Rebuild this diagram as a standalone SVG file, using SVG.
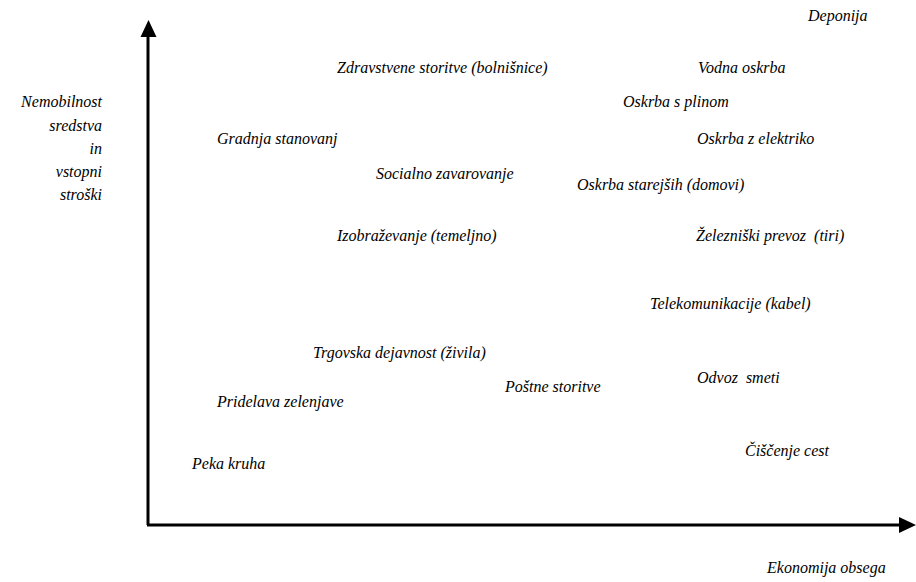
<svg xmlns="http://www.w3.org/2000/svg" width="916" height="582" viewBox="0 0 916 582">
<rect width="916" height="582" fill="#fff"/>
<g id="connectors">
<line stroke="#000" stroke-width="3" x1="148" y1="525" x2="148" y2="36"/>
<path d="M140.5,37 L148.5,20 L156.5,37 z" fill="#000"/>
<line stroke="#000" stroke-width="3" x1="147" y1="525" x2="900" y2="525"/>
<path d="M899,517 L916,525 L899,533 z" fill="#000"/>
</g>
<g id="y-label"><text font-family="serif" font-style="italic" font-size="16" text-anchor="end" x="102" y="107">Nemobilnost</text><text font-family="serif" font-style="italic" font-size="16" text-anchor="end" x="102" y="131">sredstva</text><text font-family="serif" font-style="italic" font-size="16" text-anchor="end" x="102" y="154">in</text><text font-family="serif" font-style="italic" font-size="16" text-anchor="end" x="102" y="177">vstopni</text><text font-family="serif" font-style="italic" font-size="16" text-anchor="end" x="102" y="200">stroški</text></g>
<g id="x-label"><text font-family="serif" font-style="italic" font-size="16" x="767" y="573">Ekonomija obsega</text></g>
<g id="deponija"><text font-family="serif" font-style="italic" font-size="16" x="808" y="21">Deponija</text></g>
<g id="zdravstvene"><text font-family="serif" font-style="italic" font-size="16" x="337" y="73">Zdravstvene storitve (bolnišnice)</text></g>
<g id="vodna"><text font-family="serif" font-style="italic" font-size="16" x="698" y="73">Vodna oskrba</text></g>
<g id="plin"><text font-family="serif" font-style="italic" font-size="16" x="623" y="107">Oskrba s plinom</text></g>
<g id="gradnja"><text font-family="serif" font-style="italic" font-size="16" x="217" y="144">Gradnja stanovanj</text></g>
<g id="elektrika"><text font-family="serif" font-style="italic" font-size="16" x="697" y="144">Oskrba z elektriko</text></g>
<g id="socialno"><text font-family="serif" font-style="italic" font-size="16" x="376" y="179">Socialno zavarovanje</text></g>
<g id="starejsi"><text font-family="serif" font-style="italic" font-size="16" x="577" y="190">Oskrba starejših (domovi)</text></g>
<g id="izobrazevanje"><text font-family="serif" font-style="italic" font-size="16" x="337" y="241">Izobraževanje (temeljno)</text></g>
<g id="zeleznica"><text font-family="serif" font-style="italic" font-size="16" x="696" y="241">Železniški prevoz&#160; (tiri)</text></g>
<g id="telekom"><text font-family="serif" font-style="italic" font-size="16" x="650" y="309">Telekomunikacije (kabel)</text></g>
<g id="trgovska"><text font-family="serif" font-style="italic" font-size="16" x="313" y="358">Trgovska dejavnost (živila)</text></g>
<g id="odvoz"><text font-family="serif" font-style="italic" font-size="16" x="697" y="383">Odvoz&#160; smeti</text></g>
<g id="postne"><text font-family="serif" font-style="italic" font-size="16" x="505" y="392">Poštne storitve</text></g>
<g id="pridelava"><text font-family="serif" font-style="italic" font-size="16" x="217" y="407">Pridelava zelenjave</text></g>
<g id="ciscenje"><text font-family="serif" font-style="italic" font-size="16" x="745" y="456">Čiščenje cest</text></g>
<g id="peka"><text font-family="serif" font-style="italic" font-size="16" x="192" y="469">Peka kruha</text></g>
</svg>
